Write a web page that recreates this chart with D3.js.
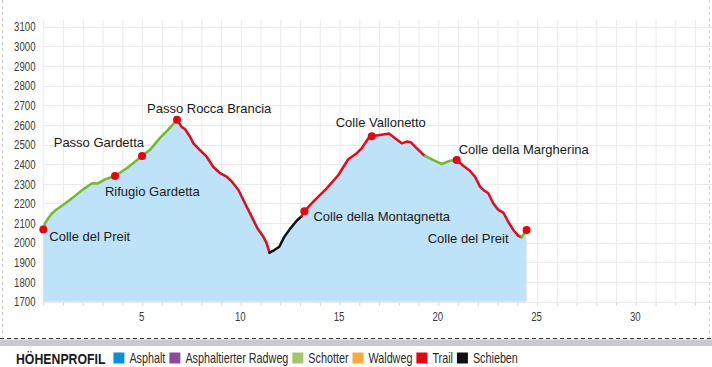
<!DOCTYPE html>
<html>
<head>
<meta charset="utf-8">
<script src="https://cdn.jsdelivr.net/npm/d3@7"></script>
<style>
  html, body { margin: 0; padding: 0; background: #fff; }
  svg { display: block; }
  .cond { font-family: "Liberation Sans", Arial, sans-serif; }
  .lbl { font-family: "Liberation Sans", Arial, sans-serif; }
</style>
</head>
<body>
<svg id="chart" width="712" height="367"></svg>
<script>
// ---- Data ----
const dist = [0.00, 0.09, 0.25, 0.44, 0.70, 1.00, 1.45, 1.96, 2.47, 2.77, 3.12, 3.63, 4.24, 5.00, 5.40, 5.91, 6.31, 6.77,
  7.00, 7.18, 7.43, 7.60, 7.93, 8.27, 8.60, 8.95, 9.29, 9.55, 9.88, 10.21, 10.55, 10.84, 11.14, 11.31, 11.45,
  11.70, 11.95, 12.20, 12.47, 12.83, 13.08, 13.22, 13.67, 14.35, 14.94, 15.44, 15.87, 16.12, 16.46, 16.63,
  17.05, 17.50, 17.81, 18.15, 18.40, 18.60, 18.82, 19.16, 19.33, 19.75, 20.18, 20.60, 20.93,
  21.26, 21.60, 21.86, 22.11, 22.28, 22.53, 22.78, 23.04, 23.29, 23.54, 23.80, 24.05, 24.22, 24.47];
const elev = [2068, 2100, 2125, 2150, 2172, 2192, 2226, 2268, 2303, 2302, 2323, 2340, 2381, 2442, 2473, 2534, 2575, 2626,
  2590, 2578, 2540, 2506, 2472, 2438, 2387, 2354, 2336, 2311, 2269, 2201, 2133, 2074, 2031, 1997, 1950,
  1963, 1980, 2030, 2068, 2112, 2135, 2160, 2209, 2277, 2345, 2425, 2456, 2481, 2532, 2542,
  2549, 2556, 2532, 2506, 2515, 2512, 2489, 2456, 2442, 2421, 2401, 2418, 2421,
  2392, 2366, 2336, 2286, 2269, 2252, 2201, 2167, 2154, 2107, 2065, 2035, 2028, 2065];

const surfaceBreaks = [0, 6.77, 11.45, 13.08, 19.33, 20.93, 24.22, 24.47];
const surfaceTypes  = ["Schotter", "Trail", "Schieben", "Trail", "Schotter", "Trail", "Schotter"];

const waypointNames = ["Colle del Preit", "Rifugio Gardetta", "Passo Gardetta", "Passo Rocca Brancia",
  "Colle della Montagnetta", "Colle Vallonetto", "Colle della Margherina", "Colle del Preit"];
const waypointKm   = [0.00, 3.63, 5.00, 6.77, 13.22, 16.63, 20.93, 24.47];
const waypointElev = [2068, 2340, 2442, 2626, 2160, 2542, 2421, 2065];

const yTicks = [1700, 1800, 1900, 2000, 2100, 2200, 2300, 2400, 2500, 2600, 2700, 2800, 2900, 3000, 3100];
const xTicks = [5, 10, 15, 20, 25, 30];

const legendTitle = "HÖHENPROFIL";
const legendNames = ["Asphalt", "Asphaltierter Radweg", "Schotter", "Waldweg", "Trail", "Schieben"];

// ---- Styles ----
const legendColors = {"Asphalt": "#0b90d8", "Asphaltierter Radweg": "#8f4b9b", "Schotter": "#a6c46e",
  "Waldweg": "#f8aa42", "Trail": "#e30613", "Schieben": "#111111"};
const lineColors = {"Schotter": "#77b82c", "Trail": "#e5091a", "Schieben": "#111111"};
// label offsets [dx, dy, anchor]
const labelPos = [[6, 12, "start"], [-10, 20, "start"], [2, -9, "end"], [-30, -7, "start"],
  [9, 9.5, "start"], [-36, -9.5, "start"], [2, -6, "start"], [-18, 13, "end"]];

const svg = d3.select("#chart");
const x = d3.scaleLinear().domain([0, 34]).range([43.3, 43.3 + 34 * 19.75]);
const y = d3.scaleLinear().domain([1700, 3134]).range([301.7, 20]);

// condensed text helper: anchor at (tx, ty), horizontally squeezed
function condText(sel, tx, ty, str, size, sx, anchor, weight, fill) {
  const g = sel.append("g").attr("transform", `translate(${tx},${ty}) scale(${sx},1)`);
  const t = g.append("text").attr("class", "cond").attr("x", 0).attr("y", 0)
    .attr("text-anchor", anchor).attr("font-size", size).attr("font-weight", weight).attr("fill", fill).text(str);
  return t.node().getComputedTextLength() * sx;
}

// borders
svg.append("line").attr("x1", 2.5).attr("x2", 2.5).attr("y1", 0).attr("y2", 337)
  .attr("stroke", "#c8c8c8").attr("stroke-dasharray", "3,3");
svg.append("line").attr("x1", 709.5).attr("x2", 709.5).attr("y1", 0).attr("y2", 337)
  .attr("stroke", "#d8d8d8").attr("stroke-dasharray", "3,3");

// grid
const grid = svg.append("g");
grid.selectAll(".vg").data(d3.range(0, 35)).enter().append("line")
  .attr("x1", d => x(d) + 0.5).attr("x2", d => x(d) + 0.5)
  .attr("y1", y(3134)).attr("y2", y(1700))
  .attr("stroke", "#e9eaf0").attr("stroke-width", 1);
grid.selectAll(".hg").data(yTicks).enter().append("line")
  .attr("x1", x(0)).attr("x2", 712)
  .attr("y1", d => Math.round(y(d)) + 0.5).attr("y2", d => Math.round(y(d)) + 0.5)
  .attr("stroke", "#e9eaf0").attr("stroke-width", 1);

// minor ticks on x axis
svg.append("g").selectAll("line").data(d3.range(0, 35)).enter().append("line")
  .attr("x1", d => x(d) + 0.5).attr("x2", d => x(d) + 0.5)
  .attr("y1", y(1700) + 1).attr("y2", y(1700) + 4)
  .attr("stroke", "#d5d5d8");

const pts = dist.map((d, i) => [d, elev[i]]);

// area
svg.append("path").datum(pts)
  .attr("d", d3.area().x(d => x(d[0])).y0(y(1700)).y1(d => y(d[1])))
  .attr("fill", "#bee3f8");

// line segments
const lineGen = d3.line().x(d => x(d[0])).y(d => y(d[1]));
surfaceTypes.forEach((t, i) => {
  const a = surfaceBreaks[i], b = surfaceBreaks[i + 1];
  const seg = pts.filter(p => p[0] >= a - 1e-9 && p[0] <= b + 1e-9);
  svg.append("path").datum(seg).attr("d", lineGen)
    .attr("fill", "none").attr("stroke", lineColors[t]).attr("stroke-width", 2.5)
    .attr("stroke-linejoin", "round").attr("stroke-linecap", "round");
});

// waypoint dots & labels
waypointNames.forEach((n, i) => {
  const cx = x(waypointKm[i]), cy = y(waypointElev[i]);
  svg.append("circle").attr("cx", cx).attr("cy", cy).attr("r", 4).attr("fill", "#e30613");
  const lp = labelPos[i];
  svg.append("text").attr("class", "lbl").attr("x", cx + lp[0]).attr("y", cy + lp[1])
    .attr("text-anchor", lp[2]).attr("font-size", 13).attr("fill", "#1a1a1a").text(n);
});

// y axis labels
const yl = svg.append("g");
yTicks.forEach(d => condText(yl, 35.5, y(d) + 4.7, String(d), 13, 0.74, "end", "normal", "#3a3a3a"));

// x axis labels
const xl = svg.append("g");
xTicks.forEach(d => condText(xl, x(d) - 0.5, 321, String(d), 13, 0.74, "middle", "normal", "#3a3a3a"));

// bottom dashed separator and band
svg.append("rect").attr("x", 0).attr("y", 339.5).attr("width", 712).attr("height", 6.5).attr("fill", "#c9cace");
svg.append("line").attr("x1", 0).attr("x2", 712).attr("y1", 338.5).attr("y2", 338.5)
  .attr("stroke", "#333").attr("stroke-width", 1).attr("stroke-dasharray", "4,3");

// legend
const lg = svg.append("g");
let lx = 16;
lx += condText(lg, lx, 363.5, legendTitle, 15, 0.82, "start", "bold", "#1a1a1a") + 8;
legendNames.forEach(n => {
  lg.append("rect").attr("x", lx).attr("y", 352.5).attr("width", 11).attr("height", 11).attr("fill", legendColors[n]);
  lx += 16;
  lx += condText(lg, lx, 363, n, 14, 0.77, "start", "normal", "#2a2a2a") + 4;
});
</script>
</body>
</html>
